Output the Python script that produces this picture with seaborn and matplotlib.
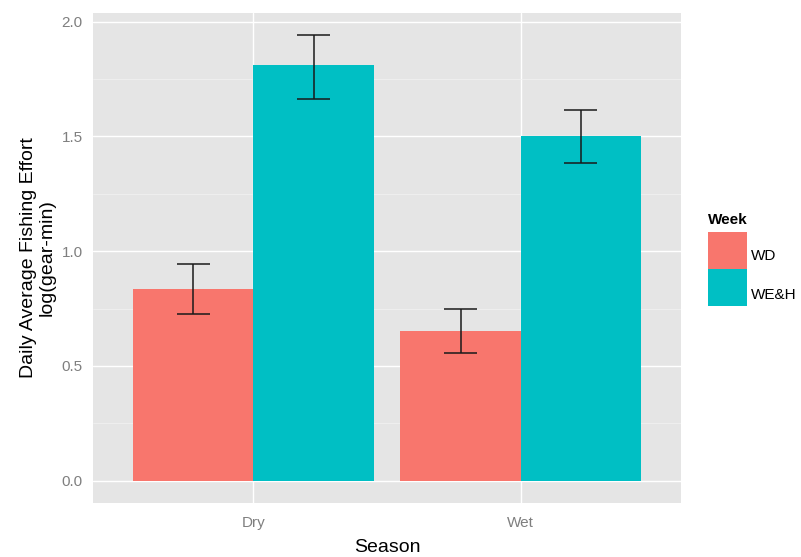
import matplotlib
matplotlib.use("Agg")
import matplotlib.pyplot as plt
import numpy as np
import pandas as pd
import seaborn as sns
from matplotlib.patches import Rectangle

# Daily average fishing effort by season and week type, with error bars
seasons = ["Dry", "Wet"]
weeks = ["WD", "WE&H"]
effort_wd = [0.834, 0.652]
effort_weh = [1.810, 1.500]
lower_wd = [0.725, 0.555]
upper_wd = [0.945, 0.747]
lower_weh = [1.665, 1.383]
upper_weh = [1.942, 1.617]
week_colors = ["#F8766D", "#00BFC4"]

df = pd.DataFrame({
    "Season": seasons * 2,
    "Week": [weeks[0]] * len(seasons) + [weeks[1]] * len(seasons),
    "effort": effort_wd + effort_weh,
    "lower": lower_wd + lower_weh,
    "upper": upper_wd + upper_weh,
})

sns.set_theme(style="darkgrid")
plt.rcParams["font.family"] = ["Liberation Sans", "DejaVu Sans"]

W, H = 801, 557
fig = plt.figure(figsize=(W / 100, H / 100), dpi=100)
fig.patch.set_facecolor("white")
ax = fig.add_axes([93 / W, 1 - 503 / H, (681 - 93) / W, (503 - 12.7) / H])
ax.set_facecolor("#E5E5E5")

sns.barplot(data=df, x="Season", y="effort", hue="Week", order=seasons,
            hue_order=weeks, palette=week_colors, width=0.9, gap=0,
            errorbar=None, saturation=1, linewidth=0, legend=False, ax=ax)

# error bars centred on each bar, caps a fixed fraction of the dodge width
cap_frac = 0.25 / 0.9
for p in ax.patches:
    h = p.get_height()
    row = df.iloc[(df["effort"] - h).abs().argmin()]
    cx = p.get_x() + p.get_width() / 2
    half = p.get_width() * cap_frac / 2
    ax.vlines(cx, row["lower"], row["upper"], color="#1a1a1a", linewidth=1.1, zorder=4)
    ax.hlines([row["lower"], row["upper"]], cx - half, cx + half,
              color="#1a1a1a", linewidth=1.1, zorder=4)

# ggplot-style expanded limits
lo = 0.0
hi = df["upper"].max()
pad = 0.05 * (hi - lo)
ax.set_ylim(lo - pad, hi + pad)
ax.set_xlim(-0.6, len(seasons) - 1 + 0.6)

ax.set_yticks([0.0, 0.5, 1.0, 1.5, 2.0])
ax.set_yticklabels(["0.0", "0.5", "1.0", "1.5", "2.0"])
ax.set_yticks([0.25, 0.75, 1.25, 1.75], minor=True)
ax.grid(True, which="major", color="white", linewidth=1.0)
ax.grid(True, which="minor", axis="y", color="#F2F2F2", linewidth=0.5)
ax.set_axisbelow(True)
for s in ax.spines.values():
    s.set_visible(False)

ax.tick_params(axis="both", which="major", length=4.5, width=0.9, color="#7F7F7F",
               labelcolor="#7F7F7F", labelsize=11)
ax.tick_params(axis="x", pad=5)
ax.tick_params(axis="y", pad=3)
ax.tick_params(which="minor", length=0)

ax.set_xlabel("Season", fontsize=14, color="black", va="center")
ax.xaxis.set_label_coords(0.5, (503 - 548) / (503 - 12.7))
ax.set_ylabel("Daily Average Fishing Effort\nlog(gear-min)", fontsize=14,
              color="black", va="center", ha="center", linespacing=1.1,
              multialignment="center")
ax.yaxis.set_label_coords((38 - 93) / (681 - 93), 0.5)

# legend
fig.text(708 / W, 1 - 220 / H, "Week", fontsize=11, fontweight="bold",
         ha="left", va="center", color="black")
key_top = [232, 269]
key_h = 37
label_y = [256, 295]
for i, wk in enumerate(weeks):
    fig.patches.append(Rectangle((708 / W, 1 - (key_top[i] + key_h) / H),
                                 39 / W, key_h / H, transform=fig.transFigure,
                                 facecolor=week_colors[i], edgecolor="none"))
    fig.text(751 / W, 1 - label_y[i] / H, wk, fontsize=11, ha="left",
             va="center", color="black")

fig.savefig("out.png", dpi=100)
